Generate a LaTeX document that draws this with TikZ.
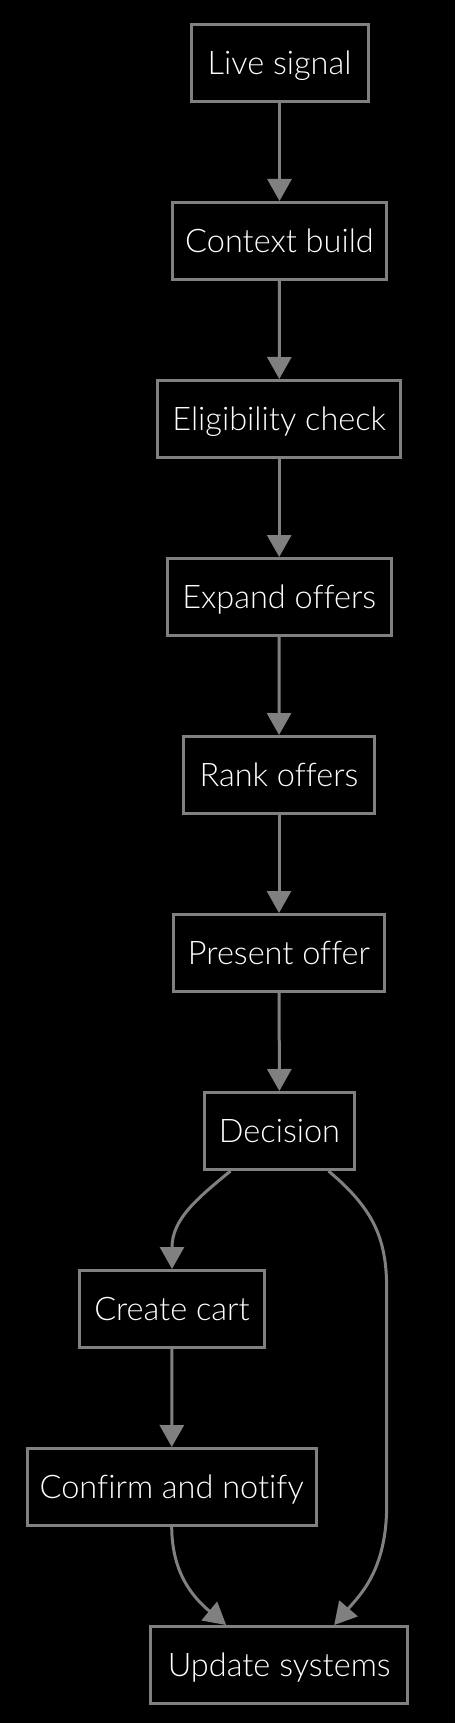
\documentclass[tikz,border=0pt]{standalone}
\usepackage{fontspec}
\setmainfont{Lato Light}[Ligatures=NoCommon]
\usetikzlibrary{arrows.meta}
\definecolor{edgegray}{HTML}{808080}
\tikzset{
  box/.style={draw=edgegray, line width=3pt, fill=black, text=white,
    minimum height=77pt, inner sep=0pt, text height=23pt, text depth=0pt,
    font=\fontsize{32.5}{38}\selectfont},
  flow/.style={draw=edgegray, line width=3pt,
    -{Triangle[width=24pt,length=22pt]}}
}
\begin{document}
\begin{tikzpicture}[x=1pt,y=-1pt]
\useasboundingbox[fill=black] (0,0) rectangle (455,1723);
\node[box, minimum width=177pt] (live) at (279.5,63) {Live signal};
\node[box, minimum width=214pt] (ctx)  at (279.5,241) {Context build};
\node[box, minimum width=243pt] (elig) at (279.2,419) {Eligibility check};
\node[box, minimum width=224pt] (exp)  at (279.2,597) {Expand offers};
\node[box, minimum width=191pt] (rank) at (279,775) {Rank offers};
\node[box, minimum width=211pt] (pres) at (279,953) {Present offer};
\node[box, minimum width=150pt] (dec)  at (279.5,1131) {Decision};
\node[box, minimum width=185pt] (cart) at (172,1309) {Create cart};
\node[box, minimum width=289pt] (conf) at (171.7,1487) {Confirm and notify};
\node[box, minimum width=257pt] (upd)  at (279.2,1665) {Update systems};

\draw[flow] (live) -- (ctx);
\draw[flow] (ctx) -- (elig);
\draw[flow] (elig) -- (exp);
\draw[flow] (exp) -- (rank);
\draw[flow] (rank) -- (pres);
\draw[flow] (pres) -- (dec);
\coordinate (d1) at ([xshift=-49pt]dec.south);
\coordinate (d2) at ([xshift=49pt]dec.south);
\coordinate (u1) at ([xshift=-53pt]upd.north);
\coordinate (u2) at ([xshift=55pt]upd.north);
\draw[flow] (d1) .. controls (195,1200) and (172,1220) .. (cart.north);
\draw[flow] (cart) -- (conf);
\draw[flow] (d2) .. controls (375,1210) and (386.7,1240) .. (386.7,1290)
  -- (386.7,1505) .. controls (386.7,1570) and (360,1595) .. (u2);
\draw[flow] (conf.south) .. controls (172,1570) and (190,1595) .. (u1);
\end{tikzpicture}
\end{document}
